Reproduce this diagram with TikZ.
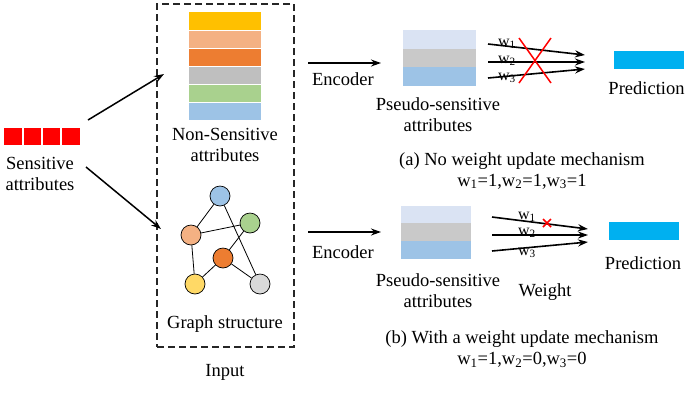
\documentclass[tikz,border=0pt]{standalone}
\usepackage{fontspec}
\setmainfont{Liberation Serif}
\usetikzlibrary{arrows.meta}
\definecolor{cyel}{HTML}{FFC000}
\definecolor{cpeach}{HTML}{F4B183}
\definecolor{corange}{HTML}{ED7D31}
\definecolor{cgray}{HTML}{BFBFBF}
\definecolor{cgreen}{HTML}{A9D18E}
\definecolor{cblue}{HTML}{9DC3E6}
\definecolor{clav}{HTML}{DAE3F3}
\definecolor{cgray2}{HTML}{C9C9C9}
\definecolor{cpred}{HTML}{00B0F0}
\definecolor{cnyel}{HTML}{FFD966}
\definecolor{cngray}{HTML}{D9D9D9}
\definecolor{cred}{HTML}{FF0000}
\begin{document}
\begin{tikzpicture}[x=1pt,y=-1pt,
  txt/.style={font=\rmfamily\fontsize{18.5}{21}\selectfont, align=center, inner sep=0pt},
  wtxt/.style={font=\rmfamily\fontsize{16}{18}\selectfont, inner sep=0pt},
  barbox/.style={rectangle, inner sep=0pt, draw=none},
  redsq/.style={rectangle, inner sep=0pt, draw=none, fill=cred, minimum width=17.5pt, minimum height=17pt},
  gnode/.style={circle, draw=black, line width=0.7pt, minimum size=20pt, inner sep=0pt},
  gedge/.style={line width=0.8pt},
  arr/.style={line width=1.5pt, -{Stealth[length=10pt,width=7pt]}},
  warr/.style={line width=1.6pt, -{Stealth[length=10pt,width=7pt]}},
  cross/.style={cred, line width=1.5pt}]
\useasboundingbox (0,0) rectangle (686,392);

% sensitive attributes
\node[redsq] (s1) at (13,136.5) {};
\node[redsq] (s2) at (32.5,136.5) {};
\node[redsq] (s3) at (51.5,136.5) {};
\node[redsq] (s4) at (71,136.5) {};
\node[txt] (senslbl) at (40,174) {Sensitive\\attributes};

% input box
\node[draw=black!85, line width=1.3pt, dash pattern=on 7pt off 4pt, minimum width=137pt, minimum height=343pt, inner sep=0pt] (inbox) at (225.5,175.5) {};
\node[txt] (inputlbl) at (225,372) {Input};

% non-sensitive stack
\node[barbox, fill=cyel, minimum width=72pt, minimum height=17.5pt] (n1) at (225,21) {};
\node[barbox, fill=cpeach, minimum width=72pt, minimum height=17pt] (n2) at (225,39.5) {};
\node[barbox, fill=corange, minimum width=72pt, minimum height=17pt] (n3) at (225,57.5) {};
\node[barbox, fill=cgray, minimum width=72pt, minimum height=17pt] (n4) at (225,75.5) {};
\node[barbox, fill=cgreen, minimum width=72pt, minimum height=17pt] (n5) at (225,93.5) {};
\node[barbox, fill=cblue, minimum width=72pt, minimum height=17pt] (n6) at (225,111.5) {};
\node[txt] (nslbl) at (225,145) {Non-Sensitive\\attributes};

% graph
\node[gnode, fill=cblue] (gb) at (220,196) {};
\node[gnode, fill=cgreen] (gg) at (250,223) {};
\node[gnode, fill=cpeach] (gp) at (191,235) {};
\node[gnode, fill=corange] (go) at (223,258) {};
\node[gnode, fill=cnyel] (gy) at (195,284) {};
\node[gnode, fill=cngray] (gr) at (260,284) {};
\draw[gedge] (gb) -- (gp);
\draw[gedge] (gb) -- (gr);
\draw[gedge] (gp) -- (gg);
\draw[gedge] (gp) -- (gy);
\draw[gedge] (gg) -- (go);
\draw[gedge] (go) -- (gy);
\draw[gedge] (go) -- (gr);
\node[txt] (gslbl) at (225,324) {Graph structure};

% arrows from sensitive
\coordinate (a1s) at (88,120);
\coordinate (a1e) at (164,74);
\coordinate (a2s) at (86,167);
\coordinate (a2e) at (161,229);
\draw[arr] (a1s) -- (a1e);
\draw[arr] (a2s) -- (a2e);

% ---------- top row ----------
\coordinate (e1s) at (308,63);
\coordinate (e1e) at (381,63);
\draw[arr] (e1s) -- (e1e);
\node[txt] (enc1) at (343,79) {Encoder};
\node[barbox, fill=clav, minimum width=73pt, minimum height=19pt] (p1a) at (439.5,39.5) {};
\node[barbox, fill=cgray2, minimum width=73pt, minimum height=18pt] (p1b) at (439.5,58) {};
\node[barbox, fill=cblue, minimum width=73pt, minimum height=19pt] (p1c) at (439.5,76.5) {};
\node[txt] (ps1) at (438,114.5) {Pseudo-sensitive\\attributes};

\coordinate (t1s) at (488,44);
\coordinate (t1e) at (585,55);
\coordinate (t2s) at (488,62);
\coordinate (t2e) at (585,62);
\coordinate (t3s) at (488,78);
\coordinate (t3e) at (585,69);
\node[wtxt] (tw1) at (507,44) {w\textsubscript{1}};
\node[wtxt] (tw2) at (507,61) {w\textsubscript{2}};
\node[wtxt] (tw3) at (507,78) {w\textsubscript{3}};
\draw[warr] (t1s) -- (t1e);
\draw[warr] (t2s) -- (t2e);
\draw[warr] (t3s) -- (t3e);
\coordinate (x1a) at (519,38);
\coordinate (x1b) at (551,83);
\coordinate (x2a) at (551,38);
\coordinate (x2b) at (519,83);
\draw[cross] (x1a) -- (x1b);
\draw[cross] (x2a) -- (x2b);

\node[barbox, fill=cpred, minimum width=70pt, minimum height=18pt] (pred1) at (649,60) {};
\node[txt] (pl1) at (646.5,88) {Prediction};
\node[txt] (cap1) at (522,170.5) {(a) No weight update mechanism\\w\textsubscript{1}=1,w\textsubscript{2}=1,w\textsubscript{3}=1};

% ---------- bottom row ----------
\coordinate (e2s) at (308,232);
\coordinate (e2e) at (381,232);
\draw[arr] (e2s) -- (e2e);
\node[txt] (enc2) at (343,252) {Encoder};
\node[barbox, fill=clav, minimum width=70pt, minimum height=17pt] (p2a) at (436,214.5) {};
\node[barbox, fill=cgray2, minimum width=70pt, minimum height=18pt] (p2b) at (436,232) {};
\node[barbox, fill=cblue, minimum width=70pt, minimum height=18pt] (p2c) at (436,250) {};
\node[txt] (ps2) at (438,291) {Pseudo-sensitive\\attributes};

\coordinate (b1s) at (492,217);
\coordinate (b1e) at (588,229);
\coordinate (b2s) at (492,235);
\coordinate (b2e) at (588,235);
\coordinate (b3s) at (492,251);
\coordinate (b3e) at (588,242);
\node[wtxt] (bw1) at (527,217) {w\textsubscript{1}};
\node[wtxt] (bw2) at (527,233) {w\textsubscript{2}};
\node[wtxt] (bw3) at (527,253) {w\textsubscript{3}};
\draw[warr] (b1s) -- (b1e);
\draw[warr] (b2s) -- (b2e);
\draw[warr] (b3s) -- (b3e);
\coordinate (bx) at (547,223);
\draw[cross, line width=1.6pt] ([shift={(-4,-4)}]bx) -- ([shift={(4,4)}]bx);
\draw[cross, line width=1.6pt] ([shift={(4,-4)}]bx) -- ([shift={(-4,4)}]bx);
\node[txt] (wlbl) at (545,292) {Weight};

\node[barbox, fill=cpred, minimum width=70pt, minimum height=18pt] (pred2) at (644,231) {};
\node[txt] (pl2) at (643,263) {Prediction};
\node[txt] (cap2) at (522,349) {(b) With a weight update mechanism\\w\textsubscript{1}=1,w\textsubscript{2}=0,w\textsubscript{3}=0};
\end{tikzpicture}
\end{document}
